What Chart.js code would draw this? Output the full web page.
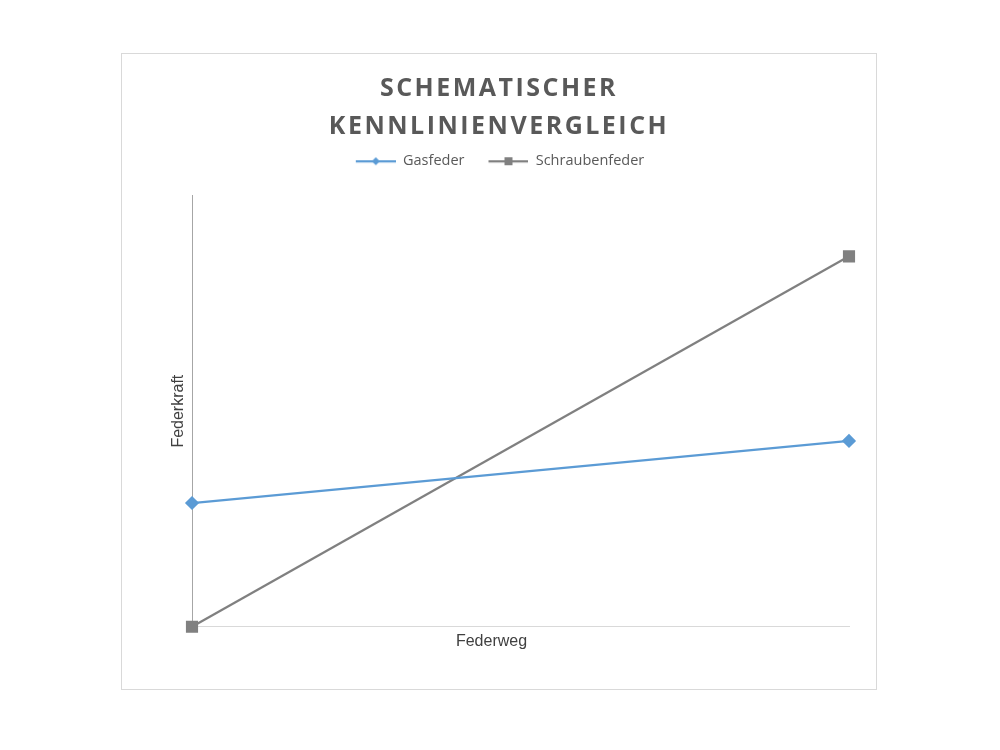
<!DOCTYPE html>
<html>
<head>
<meta charset="utf-8">
<script src="https://cdn.jsdelivr.net/npm/chart.js@4/dist/chart.umd.min.js"></script>
<style>
	html, body { margin: 0; padding: 0; background: #fff; }
	#frame {
		position: absolute;
		left: 121px;
		top: 53px;
		width: 754px;
		height: 635px;
		border: 1px solid #d9d9d9;
	}
	#frame canvas { display: block; }
</style>
</head>
<body>
<div id="frame"><canvas id="spring-chart" width="754" height="635"></canvas></div>
<script>
// Schematic comparison: no real units, only relative values
const federweg = ["min", "max"];
const gasfeder = [28.7, 43.1];
const schraubenfeder = [0, 85.9];
const titleLines = ["SCHEMATISCHER", "KENNLINIENVERGLEICH"];

const blue = "#5b9bd5";
const grey = "#808080";
const textColor = "#595959";

// little line + marker picture for the legend, like office charts do
// (left part stays empty, it is the gap between legend items)
function legendIcon(color, shape) {
	const c = document.createElement("canvas");
	c.width = 54;
	c.height = 12;
	const ctx = c.getContext("2d");
	ctx.strokeStyle = color;
	ctx.lineWidth = 2.25;
	ctx.beginPath();
	ctx.moveTo(14, 6);
	ctx.lineTo(54, 6);
	ctx.stroke();
	ctx.fillStyle = color;
	ctx.beginPath();
	if (shape === "diamond") {
		ctx.moveTo(34, 2);
		ctx.lineTo(38, 6);
		ctx.lineTo(34, 10);
		ctx.lineTo(30, 6);
	} else {
		ctx.rect(30, 2, 8, 8);
	}
	ctx.fill();
	return c;
}

const legendGap = {
	id: "legendGap",
	beforeInit(chart) {
		const fit = chart.legend.fit;
		chart.legend.fit = function () {
			fit.bind(chart.legend)();
			this.height += 17;
		};
	},
};

// wrap a draw function of a box so it runs with a shifted / spaced context
function wrapDraw(obj, name, prep) {
	if (!obj || obj["_wrapped_" + name]) return;
	const orig = obj[name];
	obj[name] = function () {
		obj.ctx.save();
		prep(obj.ctx);
		orig.apply(this, arguments);
		obj.ctx.restore();
	};
	obj["_wrapped_" + name] = true;
}

// title letter spacing, x title a bit left of the axis middle,
// legend back to center (icons carry an empty lead)
const textTweaks = {
	id: "textTweaks",
	afterLayout(chart) {
		wrapDraw(chart.titleBlock, "draw", (c) => {
			c.letterSpacing = "2.5px";
		});
		wrapDraw(chart.scales.x, "drawTitle", (c) => {
			c.translate(-29, 0);
		});
		wrapDraw(chart.legend, "draw", (c) => {
			c.translate(-6, 0);
		});
	},
};

const ctx = document.getElementById("spring-chart").getContext("2d");

new Chart(ctx, {
	type: "line",
	data: {
		labels: federweg,
		datasets: [
			{
				label: "Gasfeder",
				data: gasfeder,
				borderColor: blue,
				backgroundColor: blue,
				borderWidth: 2.25,
				pointStyle: "rectRot",
				pointRadius: 5.5,
				pointHoverRadius: 5.5,
			},
			{
				label: "Schraubenfeder",
				data: schraubenfeder,
				borderColor: grey,
				backgroundColor: grey,
				borderWidth: 2.25,
				pointStyle: "rect",
				pointRadius: 7,
				pointHoverRadius: 7,
			},
		],
	},
	options: {
		responsive: false,
		animation: false,
		clip: false,
		layout: {
			padding: { top: 10, left: 27, right: 27, bottom: 31 },
		},
		elements: {
			line: { tension: 0 },
		},
		scales: {
			x: {
				offset: false,
				grid: { display: false, drawTicks: false },
				border: { display: true, color: "#d9d9d9", width: 1 },
				ticks: { display: false },
				title: {
					display: true,
					text: "Federweg",
					color: "#404040",
					font: { family: "Liberation Sans", size: 16 },
					padding: { top: 5.5, bottom: 6.5 },
				},
			},
			y: {
				min: 0,
				max: 100,
				grid: { display: false, drawTicks: false },
				border: { display: true, color: "#a6a6a6", width: 1 },
				ticks: { display: false },
				title: {
					display: true,
					text: "Federkraft",
					color: "#404040",
					font: { family: "Liberation Sans", size: 16 },
					padding: { top: 19.5, bottom: 4.3 },
				},
			},
		},
		plugins: {
			title: {
				display: true,
				text: titleLines,
				color: textColor,
				font: { family: "Open Sans", size: 25, weight: "bold", lineHeight: 1.52 },
				padding: { top: 6, bottom: -2 },
			},
			legend: {
				display: true,
				labels: {
					color: textColor,
					font: { family: "Open Sans", size: 14.5 },
					usePointStyle: true,
					pointStyleWidth: 54,
					padding: 10,
					generateLabels: (chart) =>
						chart.data.datasets.map((ds, i) => ({
							text: ds.label,
							fontColor: textColor,
							pointStyle: legendIcon(ds.borderColor, i === 0 ? "diamond" : "square"),
							datasetIndex: i,
							hidden: false,
						})),
				},
			},
			tooltip: { enabled: false },
		},
	},
	plugins: [legendGap, textTweaks],
});
</script>
</body>
</html>
